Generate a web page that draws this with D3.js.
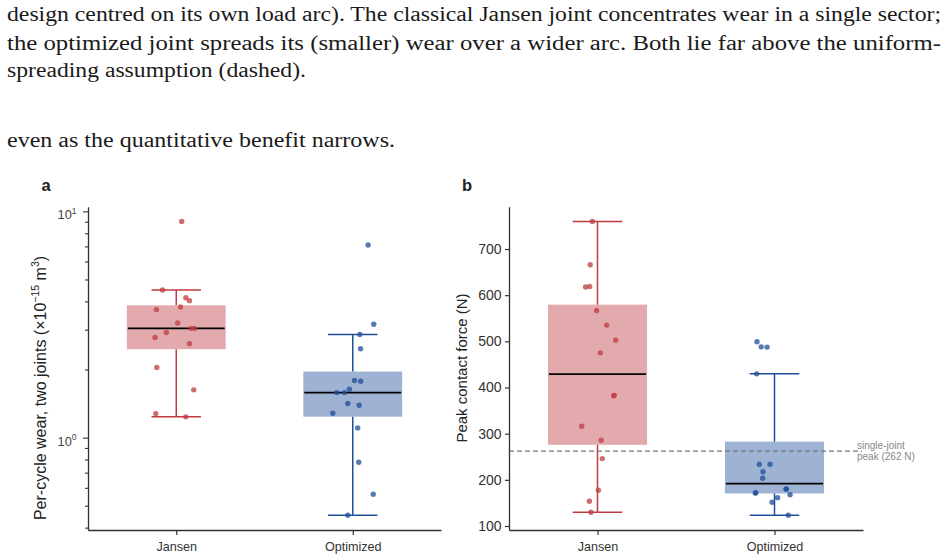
<!DOCTYPE html>
<html><head><meta charset="utf-8">
<script src="https://cdn.jsdelivr.net/npm/d3@7"></script>
<style>
html,body{margin:0;padding:0;background:#fff;}
svg{display:block;}
</style></head><body>
<svg id="chart" width="946" height="560"></svg>
<script>
// ---------------- data ----------------
const categories = ["Jansen", "Optimized"];

// panel a: per-cycle wear, two joints (x1e-15 m^3)
const wearJansen    = [9.03, 4.49, 4.15, 4.03, 3.68, 3.78, 3.21, 3.04, 3.04, 2.915, 2.77, 2.60, 2.04, 1.626, 1.277, 1.235];
const wearOptimized = [7.10, 3.17, 2.856, 2.47, 1.788, 1.776, 1.637, 1.581, 1.581, 1.414, 1.391, 1.282, 1.104, 0.778, 0.562, 0.4535];

// panel b: peak contact force (N)
const forceJansen    = [759.8, 665.9, 617.6, 618.9, 566.8, 535.2, 502.6, 475.1, 382.0, 383.0, 316.2, 285.8, 246.0, 177.4, 153.6, 129.7];
const forceOptimized = [499.0, 488.1, 487.5, 429.6, 233.8, 233.8, 217.7, 203.4, 171.4, 171.8, 180.0, 180.4, 167.9, 161.4, 151.4, 123.2];

// horizontal jitter of each point, as a fraction of the category step
const jitterWearJansen     = [0.031, -0.078, 0.054, 0.075, -0.112, 0.024, 0.008, 0.084, 0.103, -0.056, -0.120, 0.075, -0.110, 0.099, -0.116, 0.054];
const jitterWearOptimized  = [0.087, 0.119, 0.040, 0.044, 0.010, 0.045, -0.019, -0.091, -0.047, -0.028, 0.036, -0.113, 0.028, 0.034, 0.116, -0.028];
const jitterForceJansen    = [-0.029, -0.041, -0.067, -0.044, -0.005, 0.052, 0.103, 0.016, 0.092, 0.094, -0.089, 0.021, 0.027, 0.005, -0.046, -0.037];
const jitterForceOptimized = [-0.099, -0.075, -0.042, -0.101, -0.086, -0.025, -0.065, -0.067, -0.108, -0.106, 0.065, 0.067, 0.088, 0.018, -0.014, 0.078];

const singleJointPeak = 262;
const singleJointLabel = ["single-joint", "peak (262 N)"];
const forceTicks = [100, 200, 300, 400, 500, 600, 700];

const bodyLines = [
  "design centred on its own load arc). The classical Jansen joint concentrates wear in a single sector;",
  "the optimized joint spreads its (smaller) wear over a wider arc.  Both lie far above the uniform-",
  "spreading assumption (dashed).",
  "even as the quantitative benefit narrows."
];

// ---------------- styles / layout ----------------
const svg = d3.select("#chart");
const sans = "'Liberation Sans', Arial, Helvetica, sans-serif";
const colors = { Jansen: "#bf3b40", Optimized: "#1f4e9a" };
const axisColor = "#333";
const plotTop = 206.7, plotBottom = 530;

// body text
const bodyLayout = [
  { y: 20.7, len: 934 },
  { y: 50.0, len: 934 },
  { y: 76.5, len: 299 },
  { y: 147.2, len: 388 }
];
svg.append("g").selectAll("text").data(bodyLines).join("text")
  .attr("x", 7)
  .attr("y", (d, i) => bodyLayout[i].y)
  .attr("textLength", (d, i) => bodyLayout[i].len)
  .attr("lengthAdjust", "spacingAndGlyphs")
  .attr("font-family", "'Liberation Serif', 'DejaVu Serif', serif")
  .attr("font-size", 20)
  .attr("fill", "#1a1a1a")
  .text(d => d);

// ---------------- helpers ----------------
function boxStats(values) {
  const s = values.slice().sort(d3.ascending);
  const q1 = d3.quantileSorted(s, 0.25), med = d3.quantileSorted(s, 0.5), q3 = d3.quantileSorted(s, 0.75);
  const iqr = q3 - q1;
  const lo = d3.min(s.filter(v => v >= q1 - 1.5 * iqr));
  const hi = d3.max(s.filter(v => v <= q3 + 1.5 * iqr));
  return { q1, med, q3, lo, hi };
}

function drawBoxes(g, x, y, series) {
  const step = x.step();
  const bw = 0.56 * step, cw = 0.28 * step;
  series.forEach(sr => {
    const cx = x(sr.cat), c = colors[sr.cat];
    const st = boxStats(sr.values);
    const gg = g.append("g");
    gg.append("rect")
      .attr("x", cx - bw / 2).attr("y", y(st.q3))
      .attr("width", bw).attr("height", y(st.q1) - y(st.q3))
      .attr("fill", c).attr("fill-opacity", 0.43);
    // whiskers
    [[st.q3, st.hi], [st.q1, st.lo]].forEach(([a, b]) => {
      gg.append("line").attr("x1", cx).attr("x2", cx).attr("y1", y(a)).attr("y2", y(b))
        .attr("stroke", c).attr("stroke-width", 1.5);
      gg.append("line").attr("x1", cx - cw / 2).attr("x2", cx + cw / 2).attr("y1", y(b)).attr("y2", y(b))
        .attr("stroke", c).attr("stroke-width", 1.5);
    });
    gg.append("line").attr("x1", cx - bw / 2 + 1).attr("x2", cx + bw / 2 - 1)
      .attr("y1", y(st.med)).attr("y2", y(st.med))
      .attr("stroke", "#000").attr("stroke-width", 1.8);
    gg.append("g").selectAll("circle").data(sr.values).join("circle")
      .attr("cx", (d, i) => cx + sr.jitter[i] * step)
      .attr("cy", d => y(d))
      .attr("r", 2.7)
      .attr("fill", c).attr("fill-opacity", 0.75);
  });
}

function drawXAxis(g, x) {
  const ax = g.append("g").attr("transform", `translate(0,${plotBottom})`)
    .call(d3.axisBottom(x).tickSize(5).tickSizeOuter(0));
  ax.select(".domain").attr("stroke", axisColor).attr("stroke-width", 1.3);
  ax.selectAll(".tick line").attr("stroke", axisColor).attr("stroke-width", 1.2);
  ax.selectAll(".tick text").attr("y", 20.5).attr("dy", 0)
    .attr("font-family", sans).attr("font-size", 12.6).attr("fill", "#333");
}

// ---------------- panel a ----------------
{
  const g = svg.append("g");
  const x = d3.scalePoint().domain(categories).range([88, 441]).padding(0.5);
  const all = wearJansen.concat(wearOptimized);
  const lmin = Math.log10(d3.min(all)), lmax = Math.log10(d3.max(all));
  const pad = 0.05 * (lmax - lmin);
  const y = d3.scaleLog().domain([10 ** (lmin - pad), 10 ** (lmax + pad)]).range([plotBottom, plotTop]);

  drawBoxes(g, x, y, [
    { cat: "Jansen", values: wearJansen, jitter: jitterWearJansen },
    { cat: "Optimized", values: wearOptimized, jitter: jitterWearOptimized }
  ]);

  const ticks = y.ticks();
  const isMajor = v => Math.abs(Math.log10(v) - Math.round(Math.log10(v))) < 1e-9;
  const ay = g.append("g").attr("transform", "translate(88,0)")
    .call(d3.axisLeft(y).tickValues(ticks).tickFormat(() => "").tickSize(3).tickSizeOuter(0));
  ay.select(".domain").attr("stroke", axisColor).attr("stroke-width", 1.3);
  ay.selectAll(".tick line").attr("stroke", axisColor).attr("stroke-width", 1.1)
    .attr("x2", d => isMajor(d) ? -5 : -3);
  ay.selectAll(".tick text").remove();
  ay.selectAll(".tick").filter(d => isMajor(d)).append("text")
    .attr("x", -11.5).attr("y", 7.5).attr("text-anchor", "end")
    .attr("font-family", sans).attr("font-size", 12.8).attr("fill", "#444")
    .call(t => {
      t.append("tspan").text("10");
      t.append("tspan").attr("dy", -5.5).attr("font-size", 8.5).text(d => Math.round(Math.log10(d)));
    });

  drawXAxis(g, x);

  const title = g.append("text")
    .attr("transform", "translate(45.5,388) rotate(-90)")
    .attr("text-anchor", "middle")
    .attr("font-family", sans).attr("font-size", 16).attr("fill", "#222");
  title.append("tspan").text("Per-cycle wear, two joints (\u00d710");
  title.append("tspan").attr("dy", -6.5).attr("font-size", 10.5).text("\u221215");
  title.append("tspan").attr("dy", 6.5).text(" m");
  title.append("tspan").attr("dy", -6.5).attr("font-size", 10.5).text("3");
  title.append("tspan").attr("dy", 6.5).text(")");

  g.append("text").attr("x", 41.5).attr("y", 191)
    .attr("font-family", sans).attr("font-weight", "bold").attr("font-size", 16.5).attr("fill", "#222").text("a");
}

// ---------------- panel b ----------------
{
  const g = svg.append("g");
  const x = d3.scalePoint().domain(categories).range([509, 863]).padding(0.5);
  const all = forceJansen.concat(forceOptimized);
  const mn = d3.min(all), mx = d3.max(all), pad = 0.05 * (mx - mn);
  const y = d3.scaleLinear().domain([mn - pad, mx + pad]).range([plotBottom, plotTop]);

  drawBoxes(g, x, y, [
    { cat: "Jansen", values: forceJansen, jitter: jitterForceJansen },
    { cat: "Optimized", values: forceOptimized, jitter: jitterForceOptimized }
  ]);

  // single-joint reference
  g.append("line")
    .attr("x1", 509).attr("x2", 862).attr("y1", y(singleJointPeak)).attr("y2", y(singleJointPeak))
    .attr("stroke", "#777").attr("stroke-width", 1.2).attr("stroke-dasharray", "5,3");
  g.append("g").selectAll("text").data(singleJointLabel).join("text")
    .attr("x", 857).attr("y", (d, i) => y(singleJointPeak) - 2 + i * 10.3)
    .attr("font-family", sans).attr("font-size", 10).attr("fill", "#888").text(d => d);

  const ay = g.append("g").attr("transform", "translate(509,0)")
    .call(d3.axisLeft(y).tickValues(forceTicks).tickSize(4).tickPadding(3.5).tickSizeOuter(0));
  ay.select(".domain").attr("stroke", axisColor).attr("stroke-width", 1.3);
  ay.selectAll(".tick line").attr("stroke", axisColor).attr("stroke-width", 1.2);
  ay.selectAll(".tick text").attr("font-family", sans).attr("font-size", 14).attr("fill", "#333");

  drawXAxis(g, x);

  g.append("text")
    .attr("transform", "translate(467,368) rotate(-90)")
    .attr("text-anchor", "middle")
    .attr("font-family", sans).attr("font-size", 15).attr("fill", "#222")
    .text("Peak contact force (N)");

  g.append("text").attr("x", 462).attr("y", 191)
    .attr("font-family", sans).attr("font-weight", "bold").attr("font-size", 16.5).attr("fill", "#222").text("b");
}
</script>
</body></html>
